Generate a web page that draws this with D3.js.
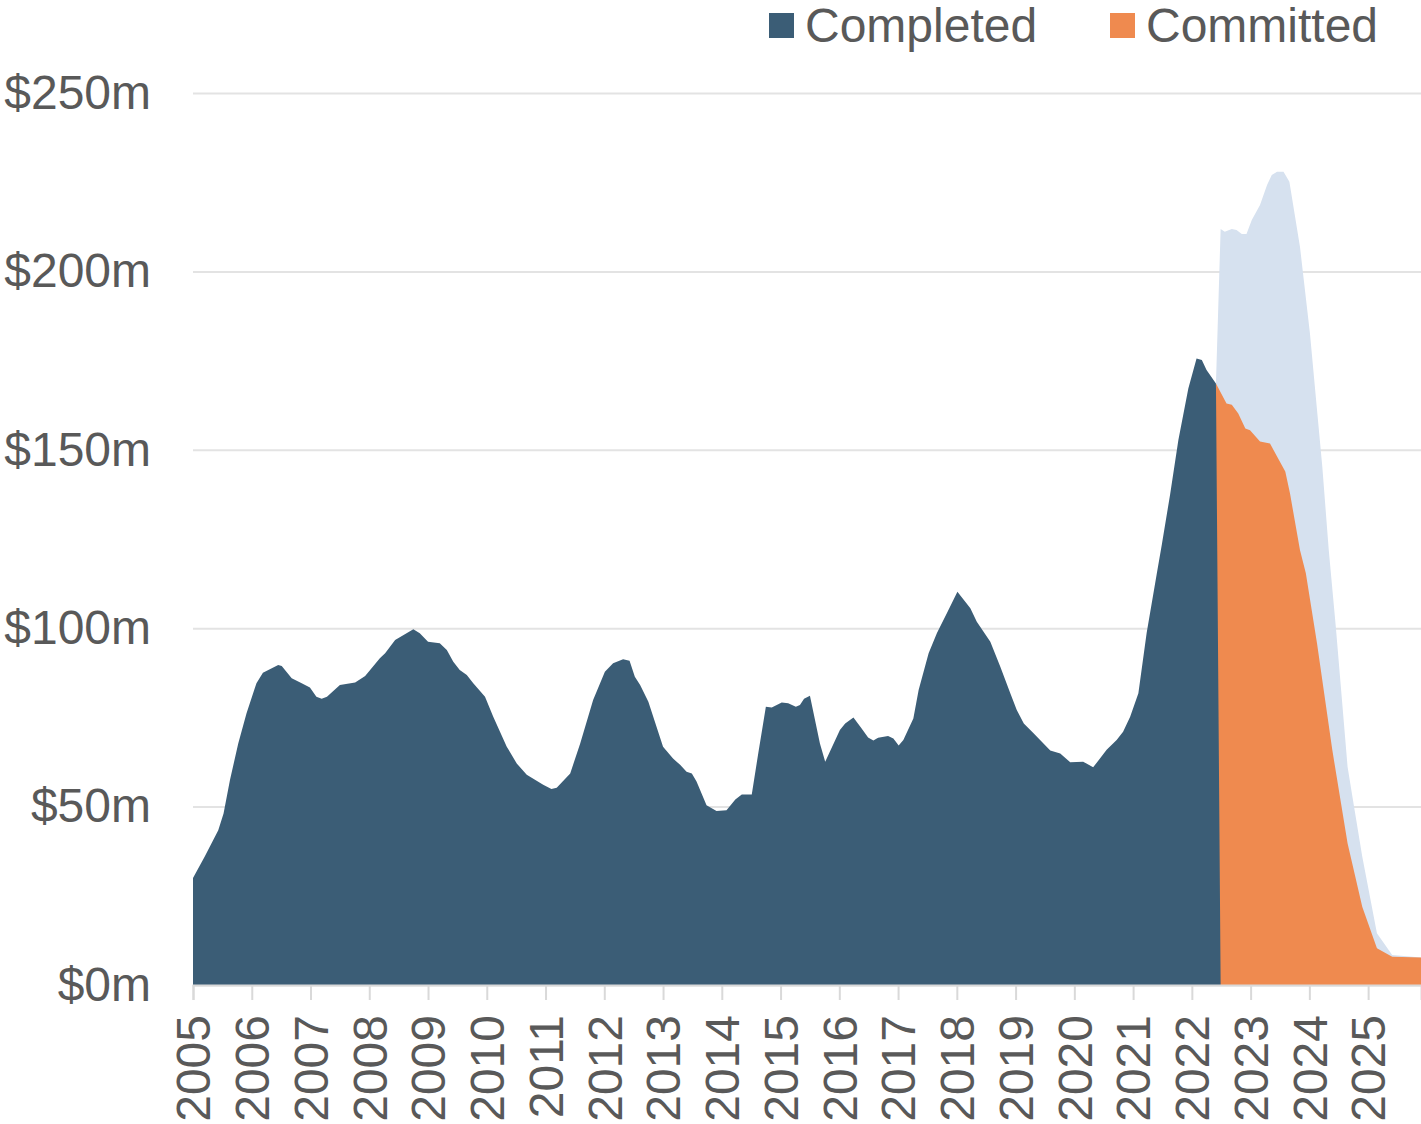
<!DOCTYPE html>
<html>
<head>
<meta charset="utf-8">
<script src="https://cdn.jsdelivr.net/npm/d3@7"></script>
<style>
  body { margin: 0; background: #fff; }
  svg text { font-family: "Liberation Sans", Arial, sans-serif; fill: #595959; }
</style>
</head>
<body>
<script>
// values in $m, x as decimal years
const completedYears = [2005.00, 2005.20, 2005.43, 2005.52, 2005.63, 2005.77, 2005.91, 2006.08, 2006.19, 2006.45,
  2006.51, 2006.68, 2006.85, 2006.99, 2007.10, 2007.19, 2007.28, 2007.50, 2007.76, 2007.93,
  2008.18, 2008.27, 2008.44, 2008.75, 2008.86, 2009.00, 2009.20, 2009.32, 2009.43, 2009.54,
  2009.66, 2009.77, 2009.97, 2010.11, 2010.34, 2010.51, 2010.68, 2010.96, 2011.10, 2011.19,
  2011.42, 2011.59, 2011.81, 2012.01, 2012.15, 2012.32, 2012.43, 2012.52, 2012.61, 2012.75,
  2013.00, 2013.17, 2013.29, 2013.40, 2013.49, 2013.57, 2013.74, 2013.91, 2014.08, 2014.23,
  2014.34, 2014.51, 2014.62, 2014.75, 2014.85, 2015.02, 2015.13, 2015.26, 2015.33, 2015.40,
  2015.50, 2015.67, 2015.76, 2016.01, 2016.10, 2016.24, 2016.38, 2016.49, 2016.58, 2016.66,
  2016.83, 2016.92, 2017.01, 2017.09, 2017.26, 2017.35, 2017.52, 2017.66, 2017.83, 2018.01,
  2018.23, 2018.34, 2018.57, 2018.74, 2018.91, 2019.02, 2019.14, 2019.31, 2019.59, 2019.76,
  2019.93, 2020.15, 2020.32, 2020.55, 2020.72, 2020.83, 2020.95, 2021.09, 2021.23, 2021.40,
  2021.49, 2021.63, 2021.77, 2021.94, 2022.08, 2022.17, 2022.25, 2022.41, 2022.49];
const completedValues = [30, 36, 43.4, 48.1, 57.5, 67.7, 76.1, 84.6, 87.5, 89.7,
  89.4, 86, 84.6, 83.4, 80.8, 80.2, 80.8, 84.1, 84.8, 86.6,
  91.6, 93, 96.7, 99.7, 98.6, 96.2, 95.8, 93.9, 90.6, 88.3,
  86.9, 84.6, 80.8, 75.2, 66.8, 62.1, 58.9, 56.1, 54.9, 55.3,
  59.3, 67.7, 79.9, 87.8, 90.2, 91.3, 90.9, 86.4, 84.1, 79.4,
  66.8, 63.5, 61.7, 59.8, 59.3, 57, 50.4, 48.8, 49, 52,
  53.4, 53.4, 64.9, 78, 77.8, 79.2, 79, 78, 78.5, 80.2,
  81.1, 67.7, 62.6, 71.5, 73.3, 75, 71.9, 69.4, 68.5, 69.3,
  69.8, 69.1, 67.1, 68.7, 74.7, 82.7, 93, 98.6, 104.2, 110.2,
  105.6, 101.8, 96.2, 89.2, 81.8, 77.1, 73.3, 70.5, 65.7, 64.9,
  62.4, 62.6, 61, 65.9, 68.7, 71, 75.2, 81.8, 98.6, 115,
  123.5, 137.5, 152.7, 167.2, 175.6, 175.2, 172.4, 168.6, 0];

const committedYears = [2022.41, 2022.59, 2022.68, 2022.79, 2022.91, 2022.99, 2023.16, 2023.33, 2023.45, 2023.59,
  2023.67, 2023.84, 2023.94, 2024.13, 2024.39, 2024.65, 2024.90, 2025.15, 2025.41, 2025.90];
const committedValues = [168.6, 163, 162.6, 160.2, 156, 155.5, 152.3, 151.8, 148.1, 143.9,
  137.8, 121.9, 115.4, 95.8, 65.9, 39.7, 21.9, 10.3, 7.9, 7.7];

// light blue outer band (pipeline total)
const pipelineYears = [2022.41, 2022.49, 2022.56, 2022.68, 2022.76, 2022.85, 2022.93, 2023.02, 2023.16, 2023.28,
  2023.36, 2023.45, 2023.56, 2023.66, 2023.84, 2024.01, 2024.13, 2024.22, 2024.33, 2024.45,
  2024.65, 2024.76, 2024.90, 2025.15, 2025.41, 2025.90];
const pipelineValues = [168.6, 211.9, 211.1, 211.9, 211.6, 210.5, 210.5, 214.4, 218.6, 224.2,
  227, 227.9, 227.9, 225.1, 206.9, 182.6, 161.2, 145.3, 121.9, 100.4,
  61.2, 50, 36, 14.5, 8.4, 7.7];

const yTicks = [0, 50, 100, 150, 200, 250];
const xTicks = d3.range(2005, 2026);
const legendLabels = ['Completed', 'Committed'];

const w = 1421;
const h = 1124;
const plotLeft = 193, plotRight = 1421, plotTop = 93, plotBottom = 985;
const fontSize = 48;

const svg = d3.select('body')
  .append('svg')
  .attr('width', w)
  .attr('height', h);

const xScale = d3.scaleLinear()
  .domain([2005, 2025.9])
  .range([plotLeft, plotRight]);

const yScale = d3.scaleLinear()
  .domain([0, 250])
  .range([plotBottom, plotTop]);

// y axis + gridlines
const yAxis = d3.axisLeft(yScale)
  .tickValues(yTicks)
  .tickSizeInner(-(plotRight - plotLeft))
  .tickSizeOuter(0)
  .tickPadding(42)
  .tickFormat(d => '$' + d + 'm');

const gy = svg.append('g')
  .attr('transform', 'translate(' + plotLeft + ',0)')
  .call(yAxis);
gy.attr('font-family', null);
gy.select('.domain').remove();
gy.selectAll('line').attr('stroke', '#e3e3e3').attr('stroke-width', 2);
gy.selectAll('text')
  .attr('font-size', fontSize)
  .style('fill', '#595959');

const pack = (xs, vs) => xs.map((x, i) => [x, vs[i]]);

const area = d3.area()
  .x(d => xScale(d[0]))
  .y0(yScale(0))
  .y1(d => yScale(d[1]));

svg.append('path')
  .datum(pack(pipelineYears, pipelineValues))
  .attr('d', area)
  .attr('fill', '#d6e1ef');

svg.append('path')
  .datum(pack(committedYears, committedValues))
  .attr('d', area)
  .attr('fill', '#ef8a4f');

svg.append('path')
  .datum(pack(completedYears, completedValues))
  .attr('d', area)
  .attr('fill', '#3b5d76');

// x axis
const xAxis = d3.axisBottom(xScale)
  .tickValues(xTicks)
  .tickSize(15)
  .tickFormat(d3.format('d'));

const gx = svg.append('g')
  .attr('transform', 'translate(0,' + plotBottom + ')')
  .call(xAxis);
gx.attr('font-family', null);
gx.select('.domain').attr('stroke', '#d9d9d9').attr('stroke-width', 2);
gx.selectAll('line').attr('stroke', '#d9d9d9').attr('stroke-width', 2);
gx.selectAll('text')
  .attr('font-size', fontSize)
  .attr('transform', 'rotate(-90)')
  .attr('x', -30)
  .attr('y', 0)
  .attr('dy', '0.35em')
  .attr('text-anchor', 'end')
  .style('fill', '#595959');

// legend
const legendColors = ['#3b5d76', '#ef8a4f'];
const legendX = [769, 1110];
const lg = svg.append('g');
legendLabels.forEach((label, i) => {
  lg.append('rect')
    .attr('x', legendX[i])
    .attr('y', 13)
    .attr('width', 25)
    .attr('height', 25)
    .attr('fill', legendColors[i]);
  lg.append('text')
    .attr('x', legendX[i] + 36)
    .attr('y', 25)
    .attr('dy', '0.35em')
    .attr('font-size', fontSize)
    .text(label);
});
</script>
</body>
</html>
